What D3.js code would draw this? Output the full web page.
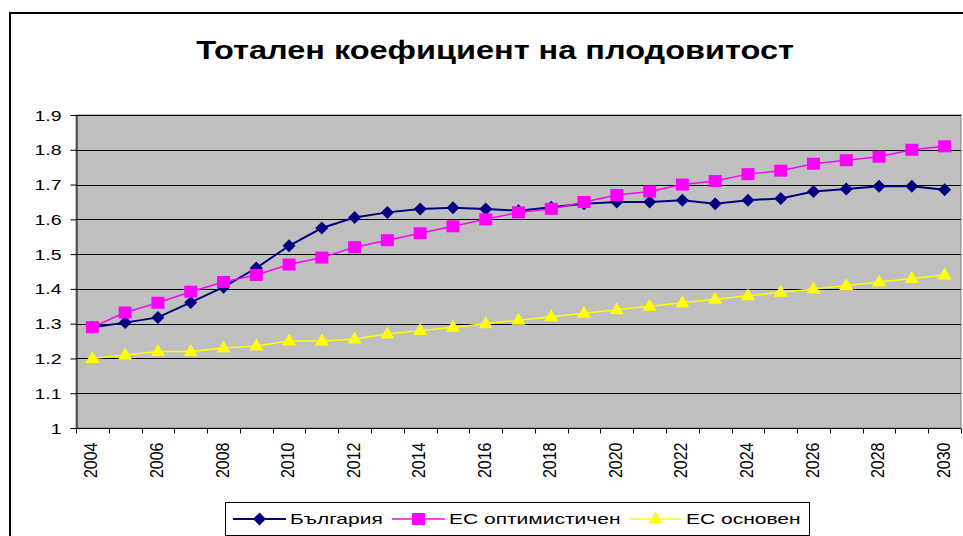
<!DOCTYPE html>
<html>
<head>
<meta charset="utf-8">
<script src="https://cdn.jsdelivr.net/npm/d3@7"></script>
<style>
  body { margin: 0; background: #fff; }
  svg { display: block; font-family: Arial, "Liberation Sans", sans-serif; }
</style>
</head>
<body>
<div id="chart"></div>
<script>
// data
const years = d3.range(2004, 2031).map(String);
const bulgaria = [1.29, 1.303, 1.318, 1.361, 1.405, 1.46, 1.524, 1.575, 1.605, 1.62, 1.63, 1.633, 1.63, 1.625, 1.635,
  1.645, 1.65, 1.65, 1.655, 1.645, 1.655, 1.66, 1.68, 1.687, 1.695, 1.695, 1.685];
const euOptimistic = [1.29, 1.332, 1.36, 1.392, 1.42, 1.44, 1.47, 1.49, 1.52, 1.54, 1.56, 1.58, 1.60, 1.62, 1.63,
  1.65, 1.67, 1.68, 1.70, 1.71, 1.73, 1.74, 1.76, 1.77, 1.78, 1.80, 1.81];
const euBase = [1.20, 1.21, 1.22, 1.22, 1.23, 1.236, 1.25, 1.25, 1.256, 1.27, 1.28, 1.29, 1.30, 1.31, 1.32,
  1.33, 1.34, 1.35, 1.36, 1.37, 1.38, 1.39, 1.40, 1.41, 1.42, 1.43, 1.44];
const yTicks = [1, 1.1, 1.2, 1.3, 1.4, 1.5, 1.6, 1.7, 1.8, 1.9];
const xLabels = years.filter((d, i) => i % 2 === 0);
const seriesNames = ['България', 'ЕС оптимистичен', 'ЕС основен'];
const title = 'Тотален коефициент на плодовитост';

const width = 963, height = 536;
const plot = { left: 76, right: 961, top: 115, bottom: 428 };
const stretch = 1.3; // the original text is drawn wider than normal

const svg = d3.select('#chart').append('svg')
  .attr('width', width).attr('height', height);

// outer chart frame (runs off the right and bottom edge)
svg.append('rect')
  .attr('x', 10).attr('y', 13).attr('width', 1000).attr('height', 600)
  .attr('fill', 'none').attr('stroke', '#000').attr('stroke-width', 2);

svg.append('text')
  .attr('transform', `translate(495,59) scale(1.3,1)`)
  .attr('text-anchor', 'middle')
  .style('font-size', '25px').style('font-weight', 'bold')
  .text(title);

const x = d3.scaleBand().domain(years).range([plot.left, plot.right]).padding(0);
const y = d3.scaleLinear().domain([1, 1.9]).range([plot.bottom, plot.top]);

// plot area
svg.append('rect')
  .attr('x', plot.left).attr('y', plot.top)
  .attr('width', plot.right - plot.left).attr('height', plot.bottom - plot.top)
  .attr('fill', '#c0c0c0').attr('stroke', '#808080').attr('stroke-width', 1);

// gridlines
svg.append('g').selectAll('line').data(yTicks.slice(1)).join('line')
  .attr('x1', plot.left).attr('x2', plot.right)
  .attr('y1', d => Math.round(y(d)) + 0.5).attr('y2', d => Math.round(y(d)) + 0.5)
  .attr('stroke', '#000').attr('stroke-width', 1);

// y axis
const yAxis = svg.append('g')
  .attr('transform', `translate(${plot.left + 0.5},0)`)
  .call(d3.axisLeft(y).tickValues(yTicks).tickSize(6).tickPadding(0).tickFormat(d3.format('')));
yAxis.select('.domain').attr('stroke', '#000');
yAxis.selectAll('.tick line').attr('stroke', '#000');
yAxis.selectAll('.tick text')
  .attr('x', null).attr('dy', null)
  .attr('transform', `translate(-15,5) scale(${stretch},1)`)
  .attr('text-anchor', 'end')
  .style('font-size', '15px').style('font-family', 'Arial, "Liberation Sans", sans-serif').attr('fill', '#000');

// x axis: ticks on category boundaries
const xAxis = svg.append('g').attr('transform', `translate(0,${plot.bottom + 0.5})`);
xAxis.append('line').attr('x1', plot.left).attr('x2', plot.right).attr('stroke', '#000');
xAxis.selectAll('.tk').data(years.concat(['end'])).join('line')
  .attr('class', 'tk')
  .attr('x1', (d, i) => Math.round(plot.left + i * x.step()) + 0.5)
  .attr('x2', (d, i) => Math.round(plot.left + i * x.step()) + 0.5)
  .attr('y1', 0).attr('y2', 5).attr('stroke', '#000');
xAxis.selectAll('text').data(xLabels).join('text')
  .attr('transform', d => `translate(${x(d) + x.bandwidth() / 2 + 5},14) scale(1.15,1) rotate(-90)`)
  .attr('text-anchor', 'end')
  .style('font-size', '16px').attr('fill', '#000')
  .text(d => d);

// markers
const markers = {
  diamond: 'M0,-6.5L6.5,0L0,6.5L-6.5,0Z',
  square: 'M-6.5,-6L6.5,-6L6.5,6L-6.5,6Z',
  triangle: 'M0,-6.5L7,5.5L-7,5.5Z'
};
const series = [
  { name: seriesNames[0], values: bulgaria, color: '#000080', width: 2, marker: markers.diamond, dy: 0 },
  { name: seriesNames[1], values: euOptimistic, color: '#ff00ff', width: 1.5, marker: markers.square, dy: 0 },
  { name: seriesNames[2], values: euBase, color: '#ffff00', width: 1.5, marker: markers.triangle, dy: -1 }
];

const line = d3.line()
  .x((d, i) => x(years[i]) + x.bandwidth() / 2)
  .y(d => y(d));

series.forEach(s => {
  const g = svg.append('g');
  g.append('path').datum(s.values)
    .attr('d', line).attr('fill', 'none')
    .attr('stroke', s.color).attr('stroke-width', s.width);
  g.selectAll('path.m').data(s.values).join('path')
    .attr('class', 'm')
    .attr('d', s.marker)
    .attr('transform', (d, i) => `translate(${x(years[i]) + x.bandwidth() / 2},${y(d) + s.dy})`)
    .attr('fill', s.color);
});

// legend
const legend = svg.append('g').attr('transform', 'translate(225,502)');
legend.append('rect').attr('x', 0.5).attr('y', 0.5).attr('width', 584).attr('height', 33)
  .attr('fill', '#fff').attr('stroke', '#000');
const itemX = [8, 167, 404];
series.forEach((s, i) => {
  const row = legend.append('g').attr('transform', `translate(${itemX[i]},17)`);
  row.append('line').attr('x1', 0).attr('x2', 53).attr('stroke', s.color).attr('stroke-width', s.width);
  row.append('path').attr('d', s.marker).attr('transform', `translate(26.5,${s.dy})`).attr('fill', s.color);
  row.append('text')
    .attr('transform', `translate(57,5) scale(1.4,1)`)
    .style('font-size', '15px').attr('fill', '#000')
    .text(s.name);
});
</script>
</body>
</html>
